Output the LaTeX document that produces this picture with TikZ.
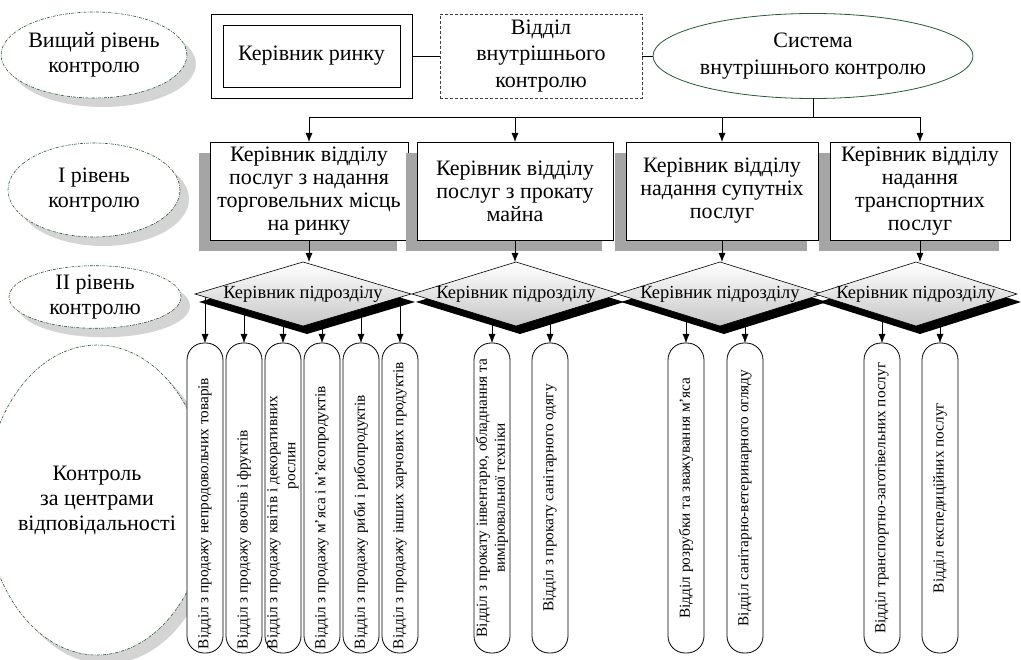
\documentclass[tikz,border=0pt]{standalone}
\usepackage{fontspec}
\setmainfont{Liberation Serif}
\usetikzlibrary{shapes.geometric,shadows,arrows.meta}
\pgfdeclarelayer{background}
\pgfsetlayers{background,main}
\definecolor{dkgreen}{RGB}{40,90,50}
\definecolor{shgray}{RGB}{165,165,165}
\definecolor{lightsh}{RGB}{212,212,212}
\newcommand{\lft}[1]{\makebox[302pt][l]{#1}}
\begin{document}
\begin{tikzpicture}[x=1pt,y=-1pt,line width=0.8pt,
  every node/.style={inner sep=0pt, outer sep=0pt},
  arr/.style={-{Latex[length=9pt,width=7pt]}},
  lvl/.style={ellipse, draw=dkgreen, line width=0.6pt,
    dash pattern=on 3pt off 1.2pt on 0.8pt off 1.2pt, fill=white, align=center,
    font=\fontsize{22}{25}\selectfont,
    drop shadow={shadow xshift=9pt, shadow yshift=-9pt, fill=lightsh, opacity=1}},
  lbox/.style={draw, fill=white, minimum height=98pt, align=center,
    font=\fontsize{22}{23}\selectfont,
    drop shadow={shadow xshift=-11pt, shadow yshift=-11pt, fill=shgray, opacity=1}},
  dmd/.style={diamond, draw, line width=0.6pt, minimum height=64pt,
    top color=white, bottom color=black!22,
    font=\fontsize{18.5}{20}\selectfont,
    drop shadow={shadow xshift=4pt, shadow yshift=-8pt, fill=black, opacity=1}},
  vbox/.style={draw, fill=white, rounded corners=17pt, minimum width=310pt,
    minimum height=36pt, rotate=90, align=center, font=\fontsize{15.3}{18}\selectfont}
]
\useasboundingbox (0,0) rectangle (1021,660);

% level ellipses
\node[lvl, minimum width=174pt, minimum height=86pt] (l0) at (94,55) {Вищий рівень\\контролю};
\node[lvl, minimum width=172pt, minimum height=94pt] (l1) at (94,190) {І рівень\\контролю};
\node[lvl, minimum width=172pt, minimum height=58pt] (l2) at (95,297) {ІІ рівень\\контролю};
\node[lvl, minimum width=170pt, minimum height=310pt] (l3) at (97,500) {Контроль\\за центрами\\відповідальності};

% top row
\node[draw, minimum width=201pt, minimum height=84pt] (mgr) at (311.5,56) {};
\node[draw, minimum width=177pt, minimum height=62pt, font=\fontsize{22}{25}\selectfont] (mgrin) at (mgr.center) {Керівник ринку};
\node[draw=black!75, dash pattern=on 3pt off 2pt, minimum width=202pt, minimum height=84pt,
  align=center, font=\fontsize{22}{26.5}\selectfont] (dept) at (541,56) {Відділ\\внутрішнього\\контролю};
\node[ellipse, draw=dkgreen, line width=0.8pt, minimum width=287pt, minimum height=85pt,
  align=center, font=\fontsize{22}{27}\selectfont] (sys) at (813,56) {Система\\внутрішнього контролю};
\draw (mgr.east) -- (dept.west);
\draw (dept.east) -- (sys.west);

% level I boxes
\node[lbox, minimum width=198pt] (b1) at (309,191) {Керівник відділу\\послуг з надання\\торговельних місць\\на ринку};
\node[lbox, minimum width=196pt] (b2) at (515,191) {Керівник відділу\\послуг з прокату\\майна};
\node[lbox, minimum width=192pt] (b3) at (722,191) {Керівник відділу\\надання супутніх\\послуг};
\node[lbox, minimum width=180pt] (b4) at (920,191) {Керівник відділу\\надання\\транспортних\\послуг};

\coordinate (busc) at (813,117);
\draw (sys.south) -- (busc);
\draw[arr] (busc) -| (b1.north);
\draw[arr] (busc) -| (b2.north);
\draw[arr] (busc) -| (b3.north);
\draw[arr] (busc) -| (b4.north);

% diamonds
\node[dmd, minimum width=216pt] (d1) at (303,294) {\makebox[0pt]{Керівник підрозділу}};
\node[dmd, minimum width=208pt] (d2) at (516,294) {\makebox[0pt]{Керівник підрозділу}};
\node[dmd, minimum width=206pt] (d3) at (720,294) {\makebox[0pt]{Керівник підрозділу}};
\node[dmd, minimum width=202pt] (d4) at (916,294) {\makebox[0pt]{Керівник підрозділу}};

\draw[arr] (b1.south) -- (b1.south |- d1.north);
\draw[arr] (b2.south) -- (b2.south |- d2.north);
\draw[arr] (b3.south) -- (b3.south |- d3.north);
\draw[arr] (b4.south) -- (b4.south |- d4.north);

% responsibility centres
\node[vbox] (g1a) at (205,498) {\lft{Відділ з продажу непродовольчих товарів}};
\node[vbox] (g1b) at (244,498) {\lft{Відділ з продажу овочів і фруктів}};
\node[vbox] (g1c) at (283,498) {\lft{Відділ з продажу квітів і декоративних}\\\lft{\hspace*{160pt}рослин}};
\node[vbox] (g1d) at (322,498) {\lft{Відділ з продажу м'яса і м'ясопродуктів}};
\node[vbox] (g1e) at (361,498) {\lft{Відділ з продажу риби і рибопродуктів}};
\node[vbox] (g1f) at (400,498) {\lft{Відділ з продажу інших харчових продуктів}};
\node[vbox] (g2a) at (492,498) {Відділ з прокату інвентарю, обладнання та\\вимірювальної техніки};
\node[vbox] (g2b) at (550,498) {Відділ з прокату санітарного одягу};
\node[vbox] (g3a) at (686,498) {Відділ розрубки та зважування м’яса};
\node[vbox] (g3b) at (745,498) {Відділ санітарно-ветеринарного огляду};
\node[vbox] (g4a) at (882,498) {Відділ транспортно-заготівельних послуг};
\node[vbox] (g4b) at (940,498) {Відділ експедиційних послуг};

\begin{pgfonlayer}{background}
\foreach \b/\d in {g1a/d1,g1b/d1,g1c/d1,g1d/d1,g1e/d1,g1f/d1,g2a/d2,g2b/d2,g3a/d3,g3b/d3,g4a/d4,g4b/d4}
  \draw[arr] (\d.center -| \b.east) -- (\b.east);
\end{pgfonlayer}
\end{tikzpicture}
\end{document}
